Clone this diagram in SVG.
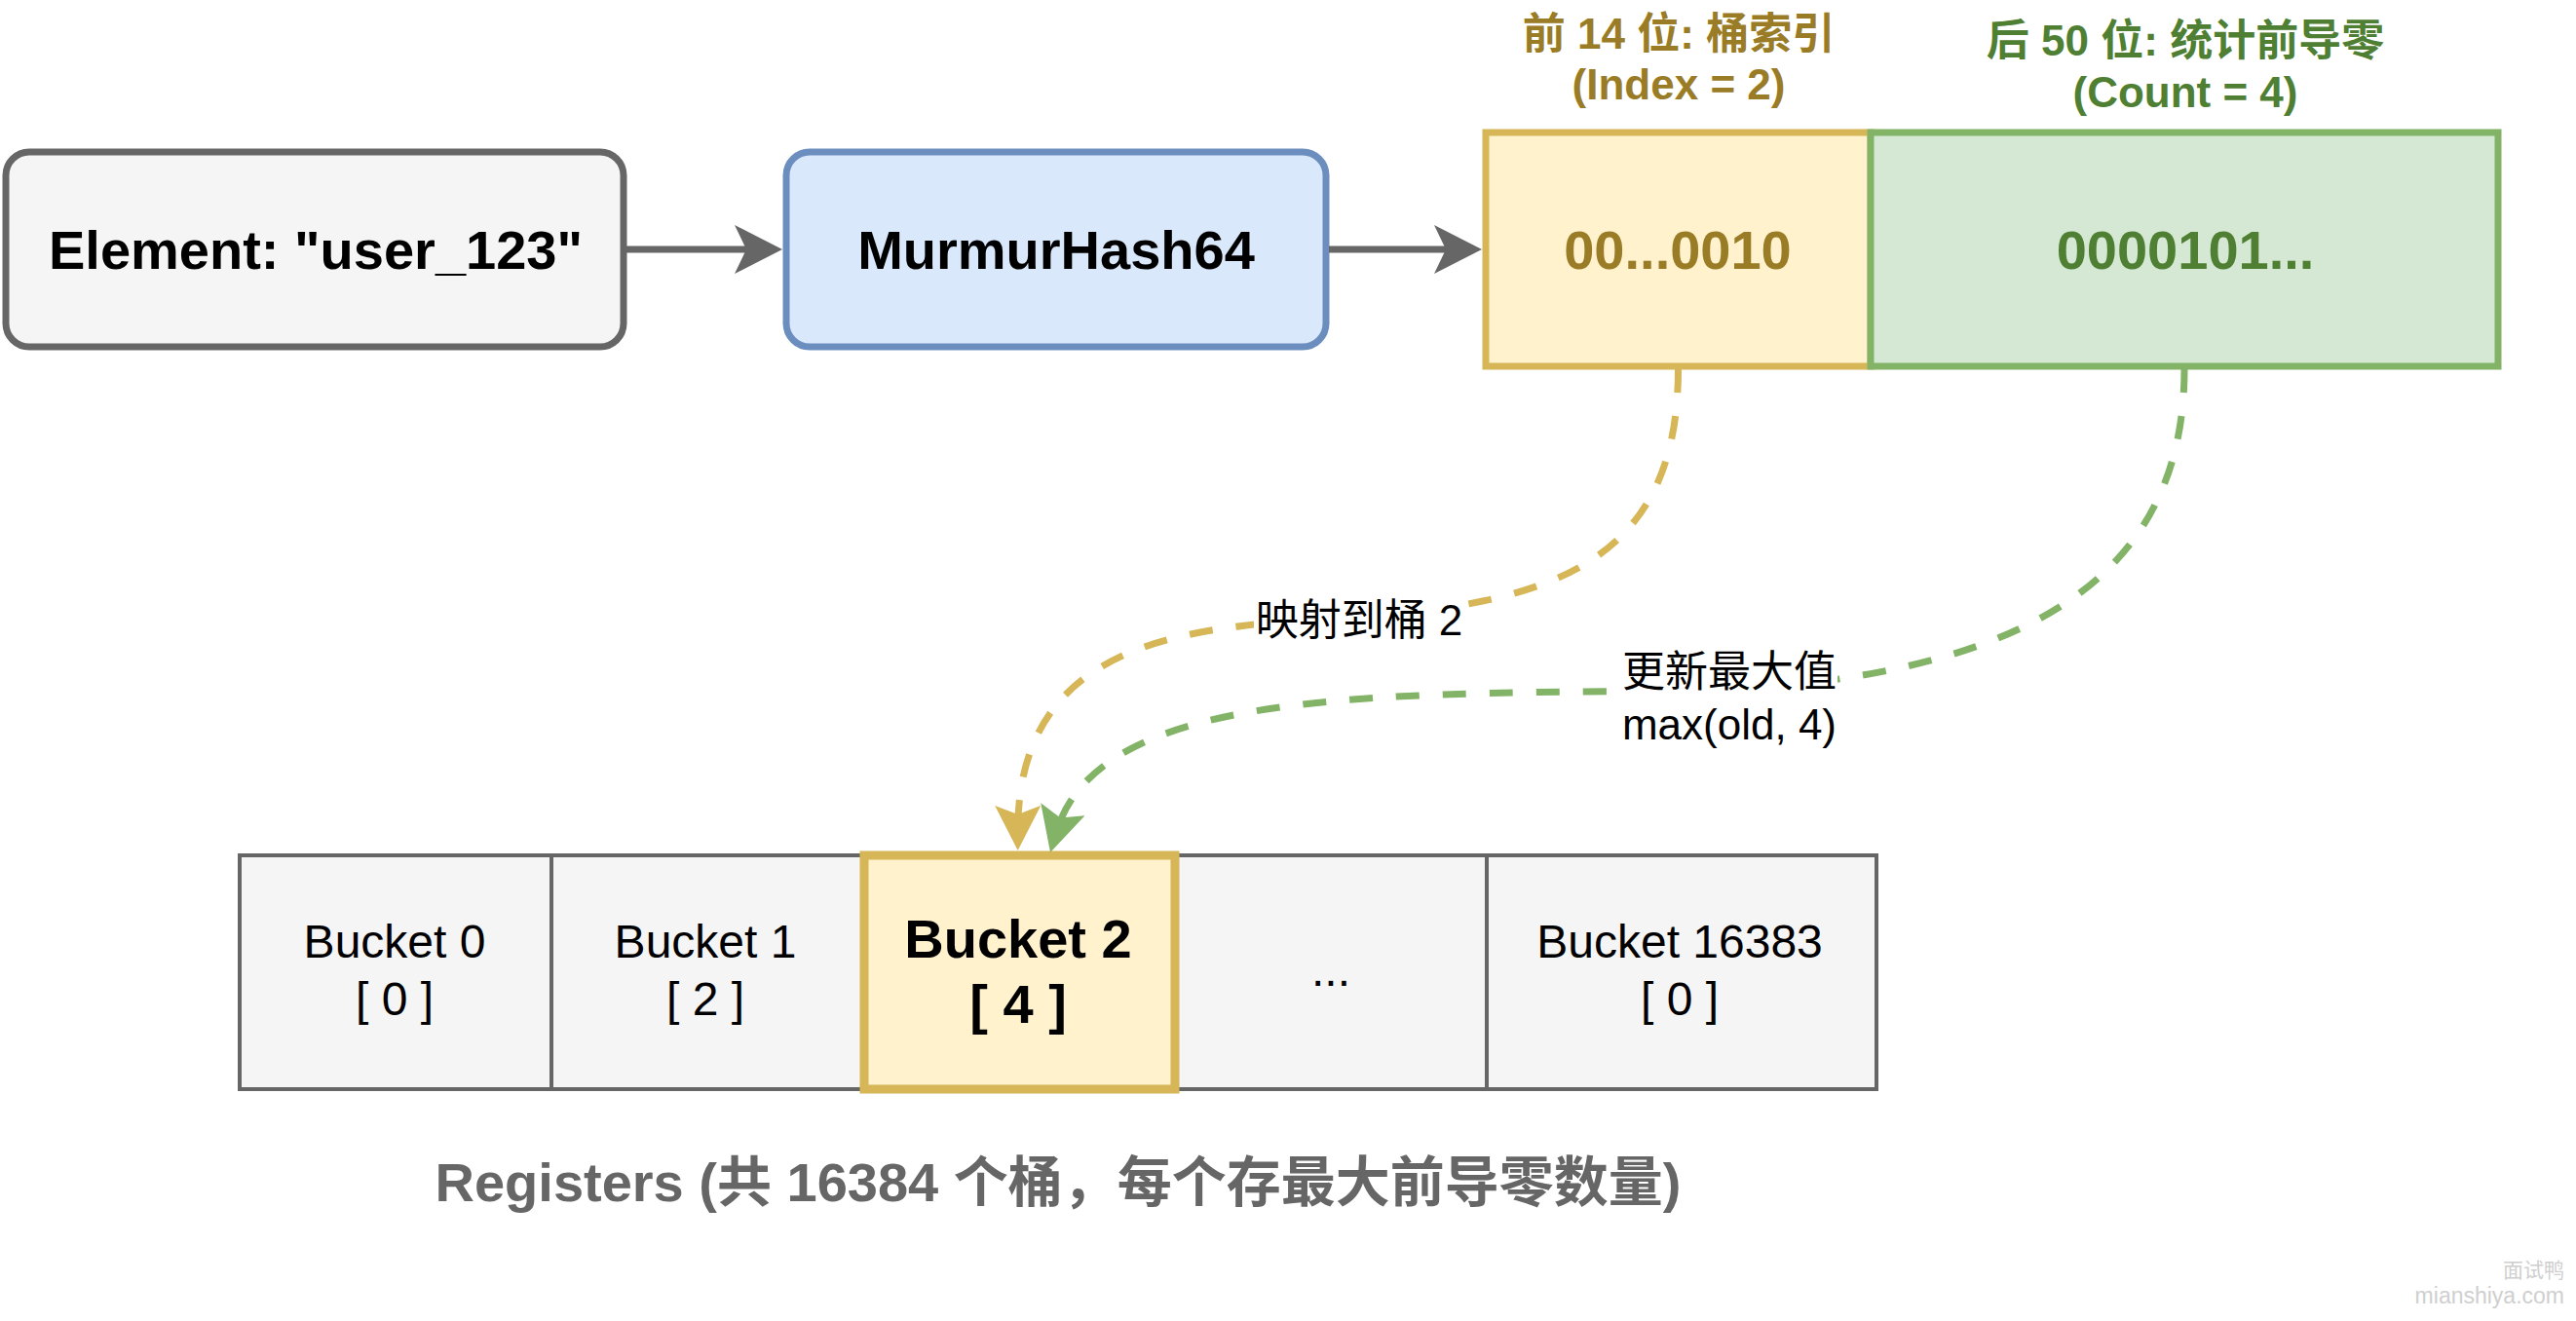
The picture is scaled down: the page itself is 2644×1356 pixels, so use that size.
<svg xmlns="http://www.w3.org/2000/svg" width="2644" height="1356" viewBox="0 0 2644 1356">
  <style>
    text { font-family: "Liberation Sans", "Noto Sans CJK SC", sans-serif; }
    .big { font-size: 56px; font-weight: bold; }
    .lbl { font-size: 44px; font-weight: bold; }
    .edge { font-size: 44px; fill: #000000; }
    .cell { fill: #f5f5f5; stroke: #666666; stroke-width: 4; }
    .ctext { font-size: 48px; fill: #000000; }
    .dash { fill: none; stroke-width: 7; stroke-dasharray: 24 24; }
    .solid { fill: none; stroke: #666666; stroke-width: 7; }
    .wm { fill: #cfcfcf; }
  </style>
  <defs>
    <marker id="arrGray" markerUnits="userSpaceOnUse" viewBox="0 0 49 50" refX="29" refY="25" markerWidth="49" markerHeight="50" orient="auto">
      <path d="M0,0 L49,25 L0,50 L12,25 Z" fill="#666666"/>
    </marker>
    <marker id="arrYellow" markerUnits="userSpaceOnUse" viewBox="0 0 46 47" refX="26" refY="23.5" markerWidth="46" markerHeight="47" orient="auto">
      <path d="M0,0 L46,23.5 L0,47 L9,23.5 Z" fill="#d6b656"/>
    </marker>
    <marker id="arrGreen" markerUnits="userSpaceOnUse" viewBox="0 0 46 47" refX="26" refY="23.5" markerWidth="46" markerHeight="47" orient="auto">
      <path d="M0,0 L46,23.5 L0,47 L9,23.5 Z" fill="#82b366"/>
    </marker>
  </defs>

  <rect x="0" y="0" width="2644" height="1356" fill="#ffffff"/>

  <g id="element">
    <rect x="6" y="156" width="634" height="200" rx="24" ry="24" fill="#f5f5f5" stroke="#666666" stroke-width="7"/>
    <text class="big" x="324" y="276" text-anchor="middle" fill="#000000">Element: "user_123"</text>
  </g>

  <g id="murmurhash">
    <rect x="807" y="156" width="554" height="200" rx="24" ry="24" fill="#dae8fc" stroke="#6c8ebf" stroke-width="7"/>
    <text class="big" x="1084" y="276" text-anchor="middle" fill="#000000">MurmurHash64</text>
  </g>

  <g id="prefix-bits">
    <rect x="1525" y="136" width="395" height="240" fill="#fff2cc" stroke="#d6b656" stroke-width="7"/>
    <text class="big" x="1722" y="276" text-anchor="middle" fill="#9a7b26">00...0010</text>
  </g>

  <g id="prefix-label">
    <text class="lbl" x="1723" y="50" text-anchor="middle" fill="#9a7b26">前 14 位: 桶索引</text>
    <text class="lbl" x="1723" y="102" text-anchor="middle" fill="#9a7b26">(Index = 2)</text>
  </g>

  <g id="suffix-bits">
    <rect x="1920" y="136" width="644" height="240" fill="#d5e8d4" stroke="#82b366" stroke-width="7"/>
    <text class="big" x="2243" y="276" text-anchor="middle" fill="#4f7f33">0000101...</text>
  </g>

  <g id="suffix-label">
    <text class="lbl" x="2243" y="57" text-anchor="middle" fill="#4f7f33">后 50 位: 统计前导零</text>
    <text class="lbl" x="2243" y="110" text-anchor="middle" fill="#4f7f33">(Count = 4)</text>
  </g>

  <g id="bucket0">
    <rect class="cell" x="246" y="878" width="320" height="240"/>
    <text class="ctext" x="405" y="983" text-anchor="middle">Bucket 0</text>
    <text class="ctext" x="405" y="1042" text-anchor="middle">[ 0 ]</text>
  </g>
  <g id="bucket1">
    <rect class="cell" x="566" y="878" width="320" height="240"/>
    <text class="ctext" x="724" y="983" text-anchor="middle">Bucket 1</text>
    <text class="ctext" x="724" y="1042" text-anchor="middle">[ 2 ]</text>
  </g>
  <g id="bucket-dots">
    <rect class="cell" x="1206" y="878" width="320" height="240"/>
    <text class="ctext" x="1366" y="1012" text-anchor="middle">...</text>
  </g>
  <g id="bucket16383">
    <rect class="cell" x="1526" y="878" width="400" height="240"/>
    <text class="ctext" x="1724" y="983" text-anchor="middle">Bucket 16383</text>
    <text class="ctext" x="1724" y="1042" text-anchor="middle">[ 0 ]</text>
  </g>
  <g id="bucket2">
    <rect x="887" y="878" width="319" height="240" fill="#fff2cc" stroke="#d6b656" stroke-width="9"/>
    <text class="big" x="1045" y="983" text-anchor="middle" fill="#000000">Bucket 2</text>
    <text class="big" x="1045" y="1050" text-anchor="middle" fill="#000000">[ 4 ]</text>
  </g>

  <g id="registers-label">
    <text x="1086" y="1233" text-anchor="middle" fill="#666666" style="font-size:56px;font-weight:bold">Registers (共 16384 个桶，每个存最大前导零数量)</text>
  </g>

  <g id="connectors">
    <path class="solid" d="M643,256 L783,256" marker-end="url(#arrGray)"/>
    <path class="solid" d="M1364,256 L1501,256" marker-end="url(#arrGray)"/>
    <path class="dash" stroke="#d6b656" d="M1722.5,379 C1722.5,576 1595,619 1395,633 C1245,643.5 1044.7,643 1044.7,853" marker-end="url(#arrYellow)"/>
    <path class="dash" stroke="#82b366" d="M2242,379 C2242,626 2025,691.5 1775,709 C1425,712 1128,702 1083.6,855.8" marker-end="url(#arrGreen)"/>
    <g id="label-map">
      <rect x="1287" y="610" width="218" height="52" fill="#ffffff"/>
      <text class="edge" x="1395" y="652" text-anchor="middle">映射到桶 2</text>
    </g>
    <g id="label-update">
      <rect x="1660" y="664" width="226" height="112" fill="#ffffff"/>
      <text class="edge" x="1775" y="705" text-anchor="middle">更新最大值</text>
      <text class="edge" x="1775" y="759" text-anchor="middle">max(old, 4)</text>
    </g>
  </g>

  <g id="watermark">
    <text class="wm" x="2632" y="1311" text-anchor="end" style="font-size:21px">面试鸭</text>
    <text class="wm" x="2632" y="1338" text-anchor="end" style="font-size:23px">mianshiya.com</text>
  </g>
</svg>
